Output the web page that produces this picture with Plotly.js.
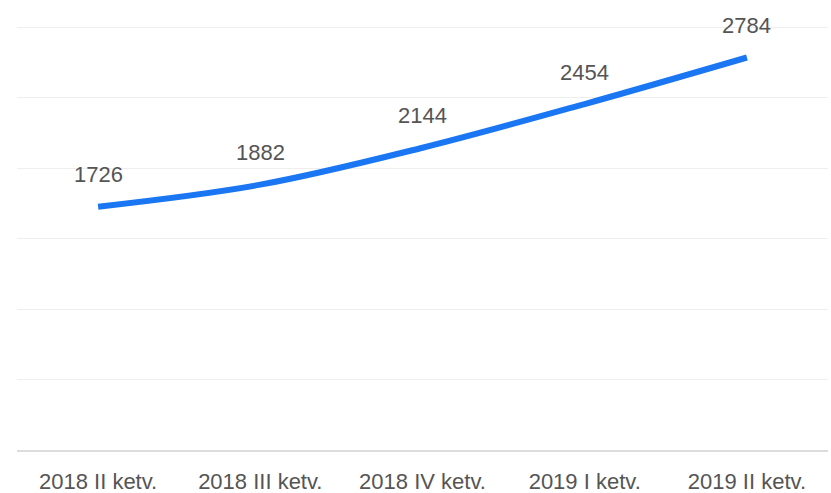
<!DOCTYPE html>
<html>
<head>
<meta charset="utf-8">
<script src="https://cdn.plot.ly/plotly-3.0.1.min.js"></script>
<style>html,body{margin:0;padding:0;background:#fff;}#chart{width:831px;height:493px;}</style>
</head>
<body>
<div id="chart"></div>
<script>
const categories = ["2018 II ketv.", "2018 III ketv.", "2018 IV ketv.", "2019 I ketv.", "2019 II ketv."];
const values = [1726, 1882, 2144, 2454, 2784];
const labels = values.map(v => String(v));

const trace = {
  x: categories,
  y: values,
  type: "scatter",
  mode: "lines",
  line: {color: "#1a76f2", width: 6, shape: "spline", smoothing: 1},
  hoverinfo: "skip"
};

const annotations = categories.map((c, i) => ({
  x: c, y: values[i], text: labels[i], showarrow: false,
  xanchor: "center", yanchor: "middle", yshift: 32,
  font: {family: "Liberation Sans, Arial, sans-serif", size: 22, color: "#555"}
}));

const layout = {
  width: 831, height: 493,
  margin: {l: 17, r: 3, t: 20, b: 43},
  paper_bgcolor: "#fff", plot_bgcolor: "#fff",
  showlegend: false,
  font: {family: "Liberation Sans, Arial, sans-serif", size: 22, color: "#555"},
  xaxis: {
    type: "category", range: [-0.5, 4.5], showgrid: false, zeroline: false,
    showline: true, linecolor: "#dcdcdc", linewidth: 2,
    ticks: "outside", ticklen: 11, tickcolor: "rgba(0,0,0,0)",
    tickfont: {size: 22, color: "#555"}
  },
  yaxis: {
    range: [0, 3050], dtick: 500, showticklabels: false,
    showgrid: true, gridcolor: "#eeeeee", gridwidth: 1,
    zeroline: false, showline: false
  },
  annotations: annotations
};

Plotly.newPlot("chart", [trace], layout, {displayModeBar: false, staticPlot: true});
</script>
</body>
</html>
